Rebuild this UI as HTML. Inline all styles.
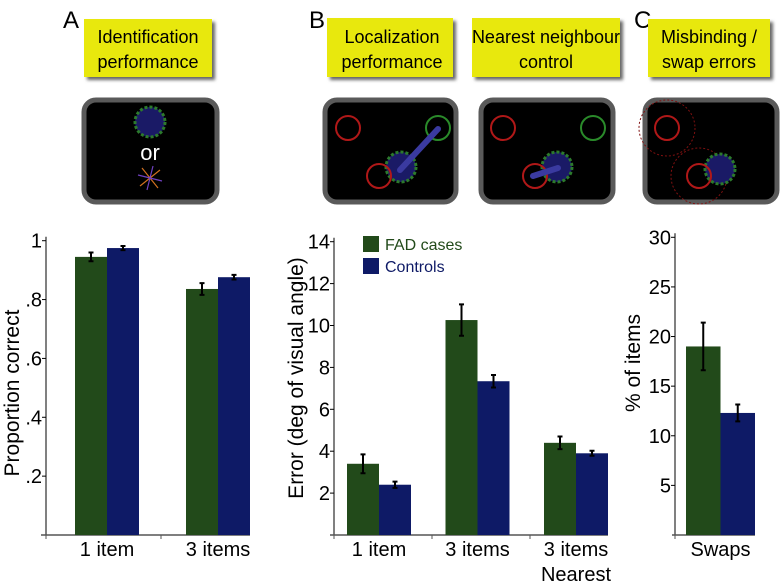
<!DOCTYPE html>
<html><head><meta charset="utf-8"><style>
html,body{margin:0;padding:0;background:#fff;}
svg{display:block;}
text{font-family:"Liberation Sans Narrow","Liberation Sans",sans-serif;}
</style></head><body>
<svg id="fig" width="780" height="584" viewBox="0 0 780 584">
<defs>
<filter id="sh" x="-10%" y="-10%" width="130%" height="140%"><feDropShadow dx="3" dy="3" stdDeviation="1.5" flood-color="#000" flood-opacity="0.6"/></filter>
</defs>
<g font-size="24" fill="#000">
<text x="63" y="28">A</text>
<text x="309" y="28">B</text>
<text x="634" y="28">C</text>
</g>
<g font-size="18" text-anchor="middle" fill="#000">
<g><rect x="84" y="19" width="128" height="58" fill="#e8e80a" filter="url(#sh)"/><text x="148" y="43">Identification</text><text x="148" y="68">performance</text></g>
<g><rect x="327" y="18" width="126" height="59" fill="#e8e80a" filter="url(#sh)"/><text x="392" y="43">Localization</text><text x="392" y="68">performance</text></g>
<g><rect x="472" y="18" width="148" height="59" fill="#e8e80a" filter="url(#sh)"/><text x="546" y="43">Nearest neighbour</text><text x="546" y="68">control</text></g>
<g><rect x="648" y="19" width="122" height="58" fill="#e8e80a" filter="url(#sh)"/><text x="709" y="43">Misbinding /</text><text x="709" y="68">swap errors</text></g>
</g>
<g>
<rect x="84" y="100" width="133" height="102" rx="12" fill="#000" stroke="#5a5a5a" stroke-width="5"/>
<circle cx="150" cy="122" r="15" fill="#1a1a66" stroke="#2c7a2c" stroke-width="3" stroke-dasharray="3 2"/>
<text x="150" y="160" font-size="22" fill="#fff" text-anchor="middle">or</text>
<g stroke-width="1.2" fill="none"><path d="M150 178 l10 -8 M150 178 l-10 8 M150 178 l8 10 M150 178 l-8 -10" stroke="#d07020"/><path d="M150 178 l12 3 M150 178 l-12 -3 M150 178 l-3 12 M150 178 l3 -12" stroke="#7040c0"/></g>
</g>
<g>
<rect x="325" y="100" width="131" height="102" rx="12" fill="#000" stroke="#5a5a5a" stroke-width="5"/>
<circle cx="348" cy="128" r="12" fill="none" stroke="#b01818" stroke-width="2"/>
<circle cx="438" cy="128" r="12" fill="none" stroke="#2a8a2a" stroke-width="2"/>
<circle cx="401" cy="167" r="15" fill="#1a1a66" stroke="#2c7a2c" stroke-width="3" stroke-dasharray="3 2"/>
<circle cx="379" cy="176" r="12" fill="none" stroke="#b01818" stroke-width="2"/>
<line x1="400" y1="170" x2="438" y2="129" stroke="#3a3aa0" stroke-width="6" stroke-linecap="round"/>
</g>
<g>
<rect x="481" y="100" width="132" height="102" rx="12" fill="#000" stroke="#5a5a5a" stroke-width="5"/>
<circle cx="503" cy="128" r="12" fill="none" stroke="#b01818" stroke-width="2"/>
<circle cx="593" cy="128" r="12" fill="none" stroke="#2a8a2a" stroke-width="2"/>
<circle cx="557" cy="167" r="15" fill="#1a1a66" stroke="#2c7a2c" stroke-width="3" stroke-dasharray="3 2"/>
<circle cx="535" cy="176" r="12" fill="none" stroke="#b01818" stroke-width="2"/>
<line x1="533" y1="176" x2="558" y2="168" stroke="#3a3aa0" stroke-width="6" stroke-linecap="round"/>
</g>
<g>
<rect x="645" y="100" width="132" height="102" rx="12" fill="#000" stroke="#5a5a5a" stroke-width="5"/>
<circle cx="667" cy="128" r="28" fill="none" stroke="#801010" stroke-width="1" stroke-dasharray="2 2"/>
<circle cx="699" cy="176" r="28" fill="none" stroke="#801010" stroke-width="1" stroke-dasharray="2 2"/>
<circle cx="667" cy="128" r="12" fill="none" stroke="#b01818" stroke-width="2"/>
<circle cx="720" cy="169" r="15" fill="#1a1a66" stroke="#2c7a2c" stroke-width="3" stroke-dasharray="3 2"/>
<circle cx="699" cy="176" r="12" fill="none" stroke="#b01818" stroke-width="2"/>
</g>
<g id="charts"></g>
</svg>
<script>
// Chart A
const catsA = ["1 item", "3 items"];
const fadA = [0.945, 0.836];
const ctlA = [0.975, 0.876];
const fadErrA = [0.015, 0.02];
const ctlErrA = [0.007, 0.008];
const ticksA = [0.2, 0.4, 0.6, 0.8, 1];
const tickLabelsA = [".2", ".4", ".6", ".8", "1"];
// Chart B
const catsB = ["1 item", "3 items", "3 items"];
const fadB = [3.4, 10.26, 4.4];
const ctlB = [2.4, 7.34, 3.9];
const fadErrB = [0.45, 0.75, 0.3];
const ctlErrB = [0.15, 0.3, 0.12];
const ticksB = [2, 4, 6, 8, 10, 12, 14];
// Chart C
const catsC = ["Swaps"];
const fadC = [19];
const ctlC = [12.3];
const fadErrC = [2.4];
const ctlErrC = [0.85];
const ticksC = [5, 10, 15, 20, 25, 30];

const NS = "http://www.w3.org/2000/svg";
const root = document.getElementById("charts");
function mk(tag, attrs, parent) {
  const e = document.createElementNS(NS, tag);
  for (const k in attrs) e.setAttribute(k, attrs[k]);
  (parent || root).appendChild(e);
  return e;
}
function chart(cfg) {
  const g = mk("g", {});
  
  
  const y = v => cfg.y0 - (v / cfg.max) * (cfg.y0 - cfg.yTop);
  const ax = mk("line", {x1: cfg.axX, y1: cfg.yTop - 4, x2: cfg.axX, y2: cfg.y0, stroke: "#000", "stroke-width": 1}, g);
  
  
  const bx = mk("line", {x1: cfg.axStart, y1: cfg.y0, x2: cfg.axEnd, y2: cfg.y0, stroke: "#555", "stroke-width": 1.5}, g);
  
  
  cfg.ticks.forEach((t, i) => {
    const yy = y(t);
    const tl = mk("line", {x1: cfg.axX - 4, y1: yy, x2: cfg.axX, y2: yy, stroke: "#000"}, g);
    
    
    const tx = mk("text", {x: cfg.axX - 4, y: yy + 7, "font-size": 20, "text-anchor": "end"}, g);
    tx.textContent = cfg.tickLabels ? cfg.tickLabels[i] : String(t);
    
    
  });
  cfg.xTicks.forEach(x => {
    const tl = mk("line", {x1: x, y1: cfg.y0, x2: x, y2: cfg.y0 + 4, stroke: "#555"}, g);
    
    
  });
  cfg.cats.forEach((c, i) => {
    const gx = cfg.start + i * cfg.step;
    [[cfg.fad, cfg.fadErr, "#224a1a", "bar-fad"], [cfg.ctl, cfg.ctlErr, "#0e1a66", "bar-controls"]].forEach((s, j) => {
      const v = s[0][i], e = s[1][i];
      const x = gx + j * cfg.bw;
      const r = mk("rect", {x: x, y: y(v), width: cfg.bw, height: cfg.y0 - y(v), fill: s[2]}, g);
      
      
      const cx = x + cfg.bw / 2;
      const eb = mk("path", {d: `M${cx} ${y(v + e)}V${y(v - e)}M${cx - 2.5} ${y(v + e)}h5M${cx - 2.5} ${y(v - e)}h5`, stroke: "#000", "stroke-width": 2, fill: "none"}, g);
      
      
    });
    const lt = mk("text", {x: gx + cfg.bw, y: 556, "font-size": 20, "text-anchor": "middle"}, g);
    lt.textContent = c;
    
    
  });
  const at = mk("text", {transform: `translate(${cfg.titleX},${cfg.titleY}) rotate(-90)`, "font-size": 21, "text-anchor": "middle"}, g);
  at.textContent = cfg.title;
  
  
  return g;
}
chart({name: "chart-identification", cats: catsA, fad: fadA, ctl: ctlA, fadErr: fadErrA, ctlErr: ctlErrA,
  ticks: ticksA, tickLabels: tickLabelsA, max: 1, y0: 535, yTop: 240.7, axX: 46, axStart: 41, axEnd: 250,
  xTicks: [46, 161], start: 75, step: 111, bw: 32, title: "Proportion correct", titleX: 19, titleY: 393});
chart({name: "chart-localization", cats: catsB, fad: fadB, ctl: ctlB, fadErr: fadErrB, ctlErr: ctlErrB,
  ticks: ticksB, max: 14, y0: 535, yTop: 241.7, axX: 334, axStart: 330, axEnd: 608,
  xTicks: [334, 432, 530], start: 347, step: 98.5, bw: 32, title: "Error (deg of visual angle)", titleX: 303, titleY: 378});
chart({name: "chart-swaps", cats: catsC, fad: fadC, ctl: ctlC, fadErr: fadErrC, ctlErr: ctlErrC,
  ticks: ticksC, max: 30, y0: 535, yTop: 237.3, axX: 675, axStart: 672, axEnd: 755,
  xTicks: [675], start: 686, step: 0, bw: 34.5, title: "% of items", titleX: 640, titleY: 363});
const nr = mk("text", {x: 576, y: 581, "font-size": 20, "text-anchor": "middle"});
nr.textContent = "Nearest";


// legend
const lg = mk("g", {});


const l1 = mk("rect", {x: 363, y: 236, width: 16, height: 16, fill: "#224a1a"}, lg);


const t1 = mk("text", {x: 385, y: 250, "font-size": 16, fill: "#224a1a"}, lg);
t1.textContent = "FAD cases";


const l2 = mk("rect", {x: 363, y: 258, width: 16, height: 16, fill: "#0e1a66"}, lg);


const t2 = mk("text", {x: 385, y: 272, "font-size": 16, fill: "#0e1a66"}, lg);
t2.textContent = "Controls";


</script>
</body></html>
